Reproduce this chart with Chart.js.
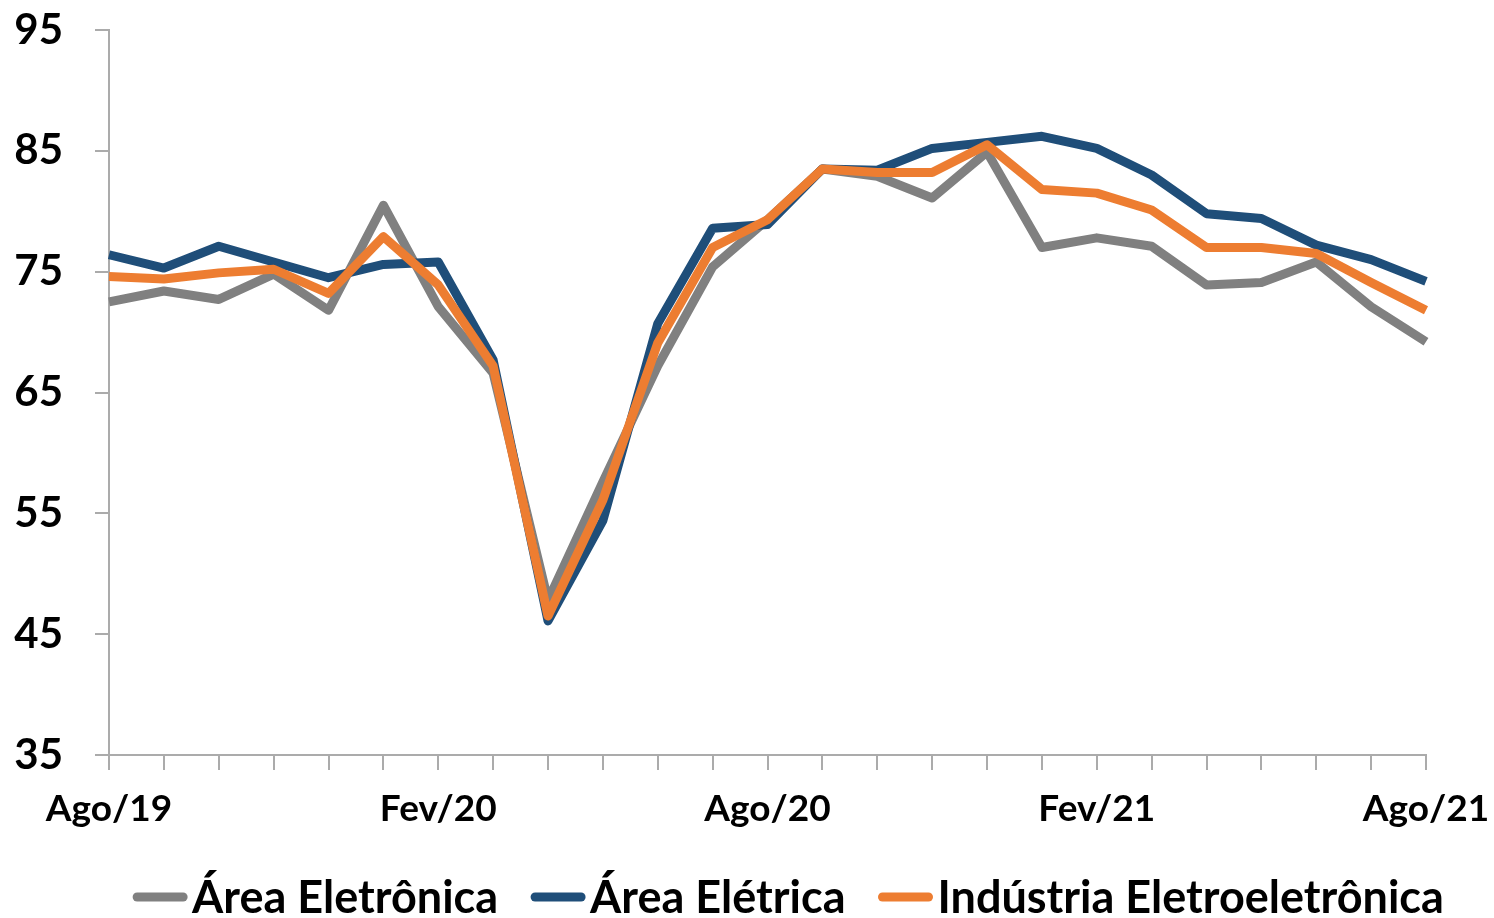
<!DOCTYPE html>
<html>
<head>
<meta charset="utf-8">
<script src="https://cdn.jsdelivr.net/npm/chart.js@4/dist/chart.umd.min.js"></script>
<style>
html,body{margin:0;padding:0;background:#fff;}
#wrap{width:1494px;height:918px;position:relative;}
</style>
</head>
<body>
<div id="wrap"><canvas id="c"></canvas></div>
<script>
const categories = ["Ago/19","Set/19","Out/19","Nov/19","Dez/19","Jan/20","Fev/20","Mar/20","Abr/20","Mai/20","Jun/20","Jul/20","Ago/20","Set/20","Out/20","Nov/20","Dez/20","Jan/21","Fev/21","Mar/21","Abr/21","Mai/21","Jun/21","Jul/21","Ago/21"];
const areaEletronica = [72.5,73.4,72.7,74.8,71.8,80.5,72.1,66.6,47.8,57.6,67.2,75.4,79.3,83.5,82.9,81.1,84.9,77.0,77.8,77.1,73.9,74.1,75.8,72.1,69.2];
const areaEletrica = [76.4,75.3,77.1,75.8,74.5,75.6,75.8,67.7,46.1,54.4,70.7,78.6,78.9,83.5,83.4,85.2,85.7,86.2,85.2,83.0,79.8,79.4,77.2,76.0,74.2];
const industriaEletro = [74.6,74.4,74.9,75.2,73.2,77.9,73.9,67.2,46.5,56.1,69.1,77.0,79.3,83.5,83.2,83.2,85.5,81.8,81.5,80.1,77.0,77.0,76.5,74.1,71.8];
const seriesNames = ["Área Eletrônica","Área Elétrica","Indústria Eletroeletrônica"];
const seriesColors = ["#808080","#1F4E79","#ED7D31"];
const yMin = 35, yMax = 95, yStep = 10;
const labelEvery = 6;

const FONT = "Lato, 'Open Sans', sans-serif";

const legendPlugin = {
  id: 'customLegend',
  afterDraw(chart) {
    const ctx = chart.ctx;
    const ds = chart.data.datasets;
    const lineLen = 56, textGap = 4, itemGap = 32;
    ctx.save();
    ctx.font = "bold 45px " + FONT;
    const widths = ds.map(d => ctx.measureText(d.label).width);
    let total = 0;
    widths.forEach((w, i) => { total += lineLen + textGap + w + (i < widths.length - 1 ? itemGap : 0); });
    const cx = 788, cy = 897;
    let x = cx - total / 2;
    ds.forEach((d, i) => {
      ctx.strokeStyle = d.borderColor;
      ctx.lineWidth = 9;
      ctx.lineCap = 'round';
      ctx.beginPath();
      ctx.moveTo(x + 5, cy);
      ctx.lineTo(x + lineLen - 5, cy);
      ctx.stroke();
      x += lineLen + textGap;
      ctx.fillStyle = '#000';
      ctx.textBaseline = 'middle';
      ctx.textAlign = 'left';
      ctx.fillText(d.label, x, cy + 1);
      x += widths[i] + itemGap;
    });
    ctx.restore();
  }
};

const seriesData = [areaEletronica, areaEletrica, industriaEletro];
const orders = [3, 2, 1];

function zeroPad(s) { s.paddingTop = 0; s.paddingBottom = 0; s.paddingLeft = 0; s.paddingRight = 0; }

new Chart(document.getElementById('c'), {
  type: 'line',
  data: {
    labels: categories,
    datasets: seriesData.map((d, i) => ({
      label: seriesNames[i],
      data: d,
      borderColor: seriesColors[i],
      backgroundColor: seriesColors[i],
      borderWidth: 9,
      pointRadius: 0,
      pointHoverRadius: 0,
      tension: 0,
      borderJoinStyle: 'round',
      borderCapStyle: 'butt',
      fill: false,
      order: orders[i]
    }))
  },
  options: {
    responsive: true,
    maintainAspectRatio: false,
    animation: false,
    events: [],
    layout: { padding: { top: 30, right: 68, bottom: 78, left: 0 } },
    plugins: { legend: { display: false }, tooltip: { enabled: false } },
    scales: {
      x: {
        type: 'category',
        offset: false,
        afterFit(s) { s.height = 85; zeroPad(s); },
        grid: { display: true, drawOnChartArea: false, drawTicks: true, tickLength: 15, color: '#ABABAB', lineWidth: 2 },
        border: { display: true, color: '#ABABAB', width: 2 },
        ticks: {
          autoSkip: false, maxRotation: 0, minRotation: 0, padding: 17,
          color: '#000',
          font: { family: FONT, size: 37, weight: 'bold' },
          callback(v, i) { return i % labelEvery === 0 ? categories[i] : ''; }
        }
      },
      y: {
        min: yMin, max: yMax,
        afterFit(s) { s.width = 109; zeroPad(s); },
        grid: { display: true, drawOnChartArea: false, drawTicks: true, tickLength: 14, color: '#ABABAB', lineWidth: 2 },
        border: { display: true, color: '#ABABAB', width: 2 },
        ticks: {
          stepSize: yStep, padding: 32, color: '#000',
          font: { family: FONT, size: 42, weight: 'bold' }
        }
      }
    }
  },
  plugins: [legendPlugin]
});
</script>
</body>
</html>
